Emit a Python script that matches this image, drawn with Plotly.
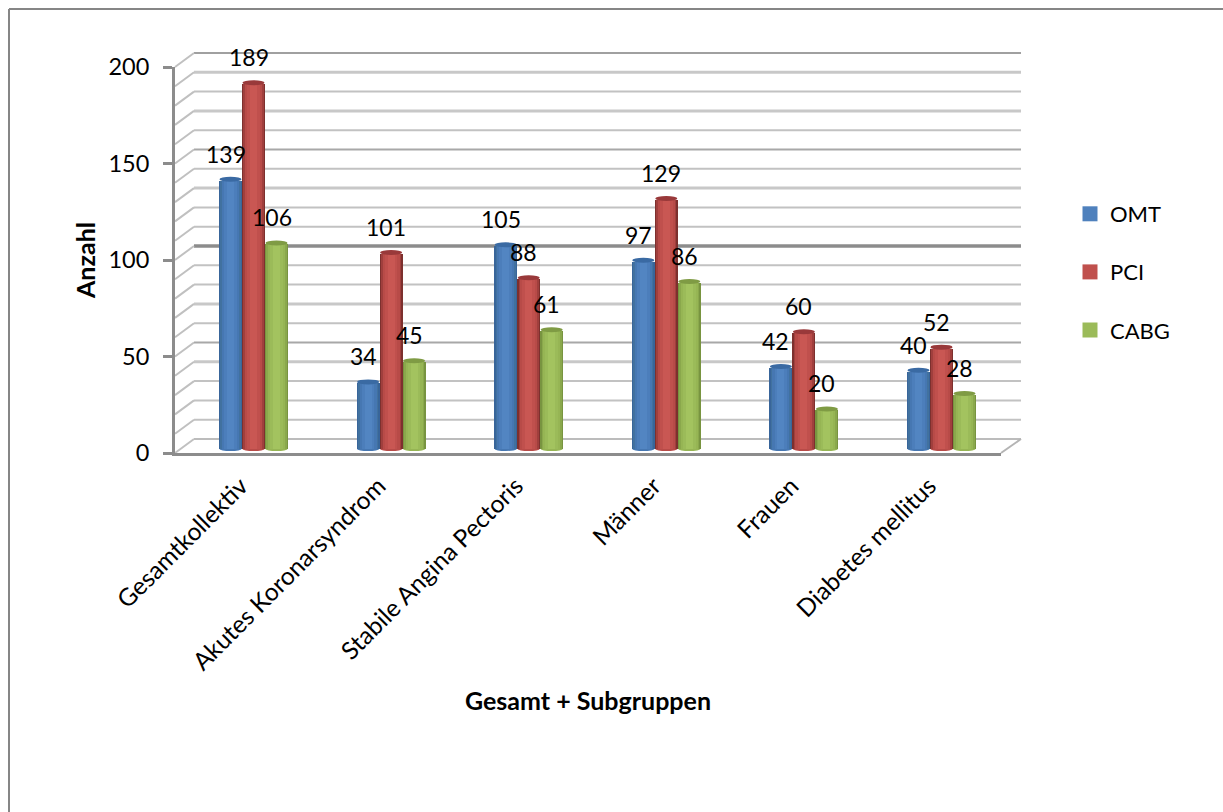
import plotly.graph_objects as go

CATEGORIES = ["Gesamtkollektiv", "Akutes Koronarsyndrom", "Stabile Angina Pectoris",
              "Männer", "Frauen", "Diabetes mellitus"]
OMT = [139, 34, 105, 97, 42, 40]
PCI = [189, 101, 88, 129, 60, 52]
CABG = [106, 45, 61, 86, 20, 28]
SERIES_NAMES = ["OMT", "PCI", "CABG"]
SERIES_VALUES = [OMT, PCI, CABG]
VALUE_TICKS = [0, 50, 100, 150, 200]

W, H = 1223, 812
FONT = "Lato, 'Open Sans', sans-serif"
DIGIT_SIZE = 23.5
LEGEND_SIZE = 22
LABEL_SIZE = 23
CATEGORY_SIZE = 24.5
TITLE_SIZE = 25

# Page geometry of the pseudo-3D chart box, in pixels
FRONT_LEFT, FRONT_RIGHT = 175, 1001
BACK_LEFT, BACK_RIGHT = 194, 1021
FRONT_ZERO, FRONT_TOP = 453, 67
BACK_ZERO, BACK_TOP = 439, 53
BAR_ZERO = 449
PX_PER_UNIT = (FRONT_ZERO - FRONT_TOP) / 200
GROUP_STEP = 137.6
FIRST_GROUP = 253.5
BAR_PX = 23
CATEGORY_NUDGE = -3 / GROUP_STEP

# Edge-to-centre shades of each cylinder, as (width share, colour)
SHADES = {
    "OMT": [(1.00, "#38659a"), (0.88, "#41719f"), (0.74, "#4677b2"), (0.54, "#4c7ebb"), (0.30, "#5285c2")],
    "PCI": [(1.00, "#7d302e"), (0.88, "#a03f3d"), (0.74, "#b84b48"), (0.54, "#c0504d"), (0.30, "#c95753")],
    "CABG": [(1.00, "#789440"), (0.88, "#8aa84c"), (0.74, "#96b554"), (0.54, "#9bbb59"), (0.30, "#a3c35f")],
}
CAP_COLOURS = {"OMT": "#3a6aa3", "PCI": "#99393a", "CABG": "#7f9b44"}
LEGEND_COLOURS = {"OMT": "#4f81bd", "PCI": "#c0504d", "CABG": "#9bbb59"}

# Back-wall gridlines every 10 units: (colour, width) per level from 0 up to 200
WALL_STYLE = {
    0: ("#bcbcbc", 2), 10: ("#c2c2c2", 2), 20: ("#c2c2c2", 2), 30: ("#c2c2c2", 2), 40: ("#c8c8c8", 3),
    50: ("#a8a8a8", 2), 60: ("#c2c2c2", 2), 70: ("#c8c8c8", 3), 80: ("#c2c2c2", 2), 90: ("#c2c2c2", 2),
    100: ("#8c8c8c", 3.5), 110: ("#c2c2c2", 2), 120: ("#c2c2c2", 2), 130: ("#c8c8c8", 3), 140: ("#c2c2c2", 2),
    150: ("#a8a8a8", 2), 160: ("#c2c2c2", 2), 170: ("#c8c8c8", 3), 180: ("#c2c2c2", 2), 190: ("#c8c8c8", 3),
    200: ("#a0a0a0", 2),
}


def px_x(p):
    return p / W


def px_y(p):
    return 1 - p / H


def paper_line(x0, y0, x1, y1, colour, width):
    return dict(type="line", xref="paper", yref="paper", layer="below",
                x0=px_x(x0), y0=px_y(y0), x1=px_x(x1), y1=px_y(y1),
                line=dict(color=colour, width=width))


shapes = []

# Outer frame of the chart object
shapes.append(paper_line(9, 9, 9, H, "#868686", 2))
shapes.append(paper_line(9, 9, W, 9, "#868686", 2))

# Back wall and the slanted side-wall lines leading to the value axis
for level, (colour, width) in WALL_STYLE.items():
    back_y = BACK_ZERO - level * PX_PER_UNIT
    front_y = FRONT_ZERO - level * PX_PER_UNIT
    shapes.append(paper_line(BACK_LEFT, back_y, BACK_RIGHT, back_y, colour, width))
    shapes.append(paper_line(FRONT_LEFT, front_y, BACK_LEFT, back_y, "#c0c0c0", 2))

# Floor edge on the right
shapes.append(paper_line(FRONT_RIGHT, FRONT_ZERO, BACK_RIGHT, BACK_ZERO, "#b4b4b4", 2))

fig = go.Figure()

# Bars share one axis pair stretched across the page, so value 0 sits on the bar floor
series_step = BAR_PX / GROUP_STEP
for s, (name, values) in enumerate(zip(SERIES_NAMES, SERIES_VALUES)):
    centres = [i + (s - 1) * series_step for i in range(len(CATEGORIES))]
    for share, colour in SHADES[name]:
        fig.add_trace(go.Bar(
            x=centres, y=values, width=series_step * share,
            marker=dict(color=colour, line=dict(width=0)),
            showlegend=False, hoverinfo="skip", xaxis="x", yaxis="y",
        ))
    half = series_step / 2
    for c, v in zip(centres, values):
        # Rounded foot and shallow top cap of each cylinder
        shapes.append(dict(type="circle", xref="x", yref="y", layer="below",
                           x0=c - half * 0.96, x1=c + half * 0.96,
                           y0=-2 / PX_PER_UNIT, y1=2 / PX_PER_UNIT,
                           fillcolor=SHADES[name][2][1], line=dict(width=0)))
        shapes.append(dict(type="circle", xref="x", yref="y", layer="above",
                           x0=c - half * 0.96, x1=c + half * 0.96,
                           y0=v - 1 / PX_PER_UNIT, y1=v + 4 / PX_PER_UNIT,
                           fillcolor=CAP_COLOURS[name], line=dict(width=0)))

# Legend entries
for name in SERIES_NAMES:
    fig.add_trace(go.Scatter(
        x=[None], y=[None], mode="markers", name=name, legendgroup=name,
        marker=dict(symbol="square", size=15, color=LEGEND_COLOURS[name]),
        xaxis="x2", yaxis="y2",
    ))

# Value labels above the bars
annotations = []
for s, values in enumerate(SERIES_VALUES):
    for i, v in enumerate(values):
        annotations.append(dict(
            x=i + (s - 1) * series_step, y=v, xref="x", yref="y", text=str(v),
            showarrow=False, xanchor="center", yanchor="middle", xshift=-5, yshift=27,
            font=dict(family=FONT, size=LABEL_SIZE, color="#000000"),
        ))

fig.update_layout(
    width=W, height=H, margin=dict(l=0, r=0, t=0, b=0, autoexpand=False),
    paper_bgcolor="#ffffff", plot_bgcolor="rgba(0,0,0,0)",
    barmode="overlay", bargap=0,
    shapes=shapes, annotations=annotations,
    font=dict(family=FONT, size=DIGIT_SIZE, color="#000000"),
    legend=dict(x=px_x(1070), y=px_y(193), xanchor="left", yanchor="top",
                tracegroupgap=26.5, font=dict(family=FONT, size=LEGEND_SIZE),
                bgcolor="rgba(0,0,0,0)", itemclick=False, itemdoubleclick=False),
    xaxis=dict(domain=[0, 1], range=[(0 - FIRST_GROUP) / GROUP_STEP, (W - FIRST_GROUP) / GROUP_STEP],
               visible=False, fixedrange=True),
    yaxis=dict(domain=[0, 1], range=[(BAR_ZERO - H) / PX_PER_UNIT, BAR_ZERO / PX_PER_UNIT],
               visible=False, fixedrange=True),
    xaxis2=dict(
        domain=[px_x(FRONT_LEFT), px_x(FRONT_RIGHT)], range=[-0.5, 5.5], anchor="y2",
        tickmode="array", tickvals=[i + CATEGORY_NUDGE for i in range(len(CATEGORIES))],
        ticktext=CATEGORIES, tickangle=-45, ticks="", showgrid=False, zeroline=False,
        showline=True, linecolor="#8c8c8c", linewidth=3,
        ticklabelstandoff=6,
        tickfont=dict(family=FONT, size=CATEGORY_SIZE),
        title=dict(text="<b>Gesamt + Subgruppen</b>", standoff=19,
                   font=dict(family=FONT, size=TITLE_SIZE)),
        fixedrange=True,
    ),
    yaxis2=dict(
        domain=[px_y(FRONT_ZERO), px_y(FRONT_TOP)], range=[0, 200], anchor="x2",
        tickmode="array", tickvals=VALUE_TICKS, ticks="outside", ticklen=9, tickwidth=3,
        tickcolor="#8c8c8c", showgrid=False, zeroline=False,
        showline=True, linecolor="#8c8c8c", linewidth=3,
        ticklabelstandoff=9,
        tickfont=dict(family=FONT, size=DIGIT_SIZE),
        title=dict(text="<b>Anzahl</b>", standoff=6,
                   font=dict(family=FONT, size=TITLE_SIZE)),
        fixedrange=True,
    ),
)

fig.write_html("out.html")
